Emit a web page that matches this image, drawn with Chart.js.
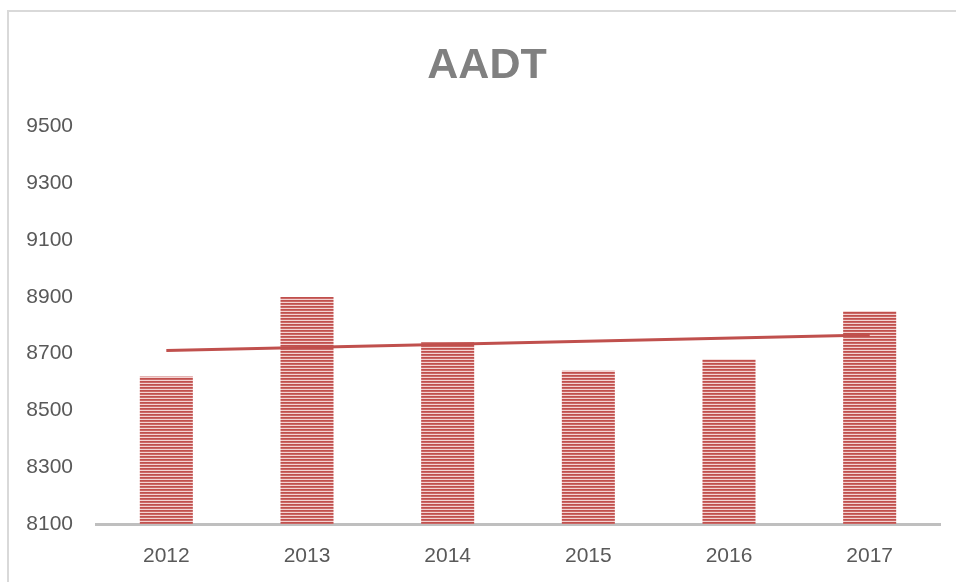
<!DOCTYPE html>
<html>
<head>
<meta charset="utf-8">
<script src="https://cdn.jsdelivr.net/npm/chart.js@4/dist/chart.umd.min.js"></script>
<style>
  html, body { margin: 0; padding: 0; background: #fff; }
  #wrap { position: relative; width: 956px; height: 582px; overflow: hidden; }
  #frame { position: absolute; left: 7px; top: 10px; width: 1000px; height: 700px;
           border-top: 2px solid #d9d9d9; border-left: 2px solid #d9d9d9; }
  #chart { position: absolute; left: 0; top: 0; }
</style>
</head>
<body>
<div id="wrap">
  <div id="frame"></div>
  <canvas id="chart" width="956" height="582"></canvas>
</div>
<script>
const years = ['2012', '2013', '2014', '2015', '2016', '2017'];
const aadt = [8620, 8900, 8740, 8640, 8680, 8850];
// linear trend at its two ends
const trend = [8711, null, null, null, null, 8766];
const yMin = 8100;
const yMax = 9500;
const yStep = 200;

const red = '#c0504d';

// horizontal stripe fill like the office "narrow horizontal" pattern
const makeStripes = function() {
  let c = document.createElement('canvas');
  c.width = 4;
  c.height = 3;
  let g = c.getContext('2d');
  g.fillStyle = red;
  g.fillRect(0, 0, 4, 1);
  g.fillStyle = '#cb6866';
  g.fillRect(0, 1, 4, 1);
  g.fillStyle = '#f3d3d2';
  g.fillRect(0, 2, 4, 1);
  return g.createPattern(c, 'repeat');
}

const ctx = document.getElementById('chart').getContext('2d');
const chart = new Chart(ctx, {
  type: 'bar',
  data: {
    labels: years,
    datasets: [
      {
        type: 'line',
        label: 'Trend',
        data: trend,
        spanGaps: true,
        borderColor: red,
        borderWidth: 3,
        pointRadius: 0,
        order: 0
      },
      {
        label: 'AADT',
        data: aadt,
        backgroundColor: makeStripes(),
        borderWidth: 0,
        barPercentage: 0.377,
        categoryPercentage: 1,
        order: 1
      }
    ]
  },
  options: {
    responsive: false,
    animation: false,
    layout: { padding: { left: 18, right: 0, top: 0, bottom: 15 } },
    plugins: {
      legend: { display: false },
      tooltip: { enabled: false },
      title: {
        display: true,
        text: 'AADT',
        color: '#808080',
        font: { family: 'Liberation Sans', size: 43, weight: 'bold', lineHeight: 1.2 },
        padding: { top: 40, bottom: 35 }
      }
    },
    scales: {
      x: {
        grid: { display: false, drawTicks: false },
        border: { color: '#bfbfbf', width: 3 },
        afterFit: function(scale) { scale.height = 43; },
        ticks: {
          color: '#595959',
          padding: 20,
          font: { family: 'Liberation Sans', size: 21 }
        }
      },
      y: {
        min: yMin,
        max: yMax,
        grid: { display: false, drawTicks: false },
        border: { display: false },
        afterFit: function(scale) { scale.width = 78; },
        ticks: {
          stepSize: yStep,
          color: '#595959',
          padding: 23,
          crossAlign: 'center',
          font: { family: 'Liberation Sans', size: 21 },
          callback: function(value) { return String(value); }
        }
      },
      // empty right axis, only keeps the plot off the right edge
      yRight: {
        position: 'right',
        min: yMin,
        max: yMax,
        grid: { display: false, drawTicks: false },
        border: { display: false },
        ticks: { display: false },
        afterFit: function(scale) { scale.width = 16; }
      }
    }
  }
});
</script>
</body>
</html>
